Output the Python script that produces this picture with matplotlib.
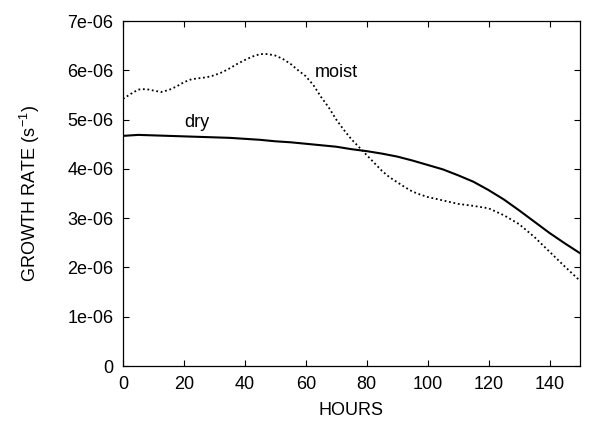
import numpy as np
import matplotlib
matplotlib.use('Agg')
from matplotlib import pyplot as plt
from matplotlib.ticker import FixedLocator, FuncFormatter

plt.rcParams['font.family'] = ['Liberation Sans', 'DejaVu Sans']
plt.rcParams['mathtext.fontset'] = 'custom'
plt.rcParams['mathtext.rm'] = 'Liberation Sans'
plt.rcParams['mathtext.it'] = 'Liberation Sans'

# dry run: growth rate (1e-6 s^-1) every 5 hours
dry_hours = np.arange(0, 151, 5)
dry_rate = [4.67, 4.69, 4.68, 4.67, 4.66, 4.65, 4.64, 4.63, 4.61, 4.59,
            4.56, 4.54, 4.51, 4.48, 4.45, 4.40, 4.36, 4.31, 4.25, 4.17,
            4.08, 3.99, 3.87, 3.74, 3.57, 3.38, 3.16, 2.93, 2.70, 2.49, 2.29]

# moist run
moist_hours = [0, 2.5, 5, 7.5, 10, 12.5, 15, 17.5, 20, 22.5, 25, 27.5, 30, 32.5,
               35, 37.5, 40, 42.5, 45, 47.5, 50, 52.5, 55, 57.5, 60, 62.5, 65,
               67.5, 70, 72.5, 75, 77.5, 80, 82.5, 85, 87.5, 90, 92.5, 95, 97.5,
               100, 105, 110, 115, 120, 125, 130, 135, 140, 145, 150]
moist_rate = [5.42, 5.52, 5.61, 5.62, 5.59, 5.56, 5.60, 5.67, 5.76, 5.82, 5.84,
              5.86, 5.90, 5.96, 6.04, 6.13, 6.21, 6.28, 6.33, 6.33, 6.30, 6.23,
              6.13, 6.00, 5.88, 5.70, 5.46, 5.25, 5.00, 4.79, 4.60, 4.44, 4.28,
              4.12, 3.96, 3.83, 3.73, 3.63, 3.54, 3.48, 3.43, 3.36, 3.29, 3.25,
              3.20, 3.06, 2.88, 2.62, 2.32, 2.02, 1.73]

yticks = [0, 1e-6, 2e-6, 3e-6, 4e-6, 5e-6, 6e-6, 7e-6]
xticks = [0, 20, 40, 60, 80, 100, 120, 140]

fig = plt.figure(figsize=(5.9, 4.21), dpi=100)
ax = fig.add_axes([0.2085, 0.1306, 0.7745, 0.8194])

ax.plot(dry_hours, np.array(dry_rate) * 1e-6, color='black', linewidth=1.5)
ax.plot(moist_hours, np.array(moist_rate) * 1e-6, color='black', linewidth=1.3,
        linestyle=(0, (1, 1.5)))

ax.text(24.1, 4.85e-6, 'dry', fontsize=13, ha='center', va='baseline')
ax.text(62.8, 5.86e-6, 'moist', fontsize=13, ha='left', va='baseline')

ax.set_xlim(0, 150)
ax.set_ylim(0, 7e-6)
ax.xaxis.set_major_locator(FixedLocator(xticks))
ax.yaxis.set_major_locator(FixedLocator(yticks))
ax.yaxis.set_major_formatter(FuncFormatter(lambda v, p: '%g' % v))
ax.tick_params(direction='in', length=4.5, width=0.8, top=True, right=True,
               labelsize=13, pad=7)
for s in ax.spines.values():
    s.set_linewidth(0.9)

ax.set_xlabel('HOURS', fontsize=13, labelpad=7)
ax.set_ylabel('GROWTH RATE (s$^{-1}$)', fontsize=13, labelpad=18)

fig.savefig('out.png', dpi=100)
plt.close()
